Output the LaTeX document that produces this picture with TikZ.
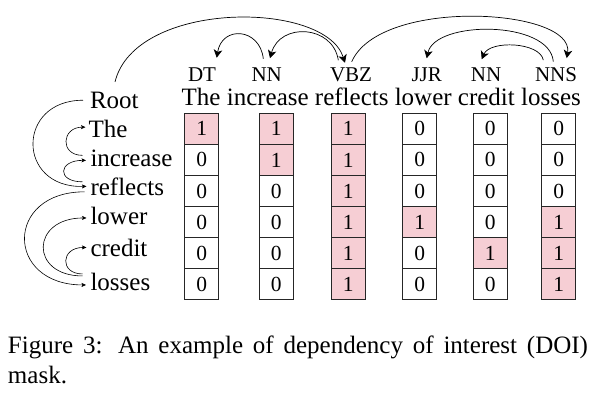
\documentclass[tikz,border=0pt]{standalone}
\usepackage{fontspec}
\setmainfont{Liberation Serif}
\usetikzlibrary{arrows.meta,calc}
\definecolor{maskpink}{RGB}{246,206,212}
\newcommand\wfont{\fontsize{25}{30}\selectfont}
\newcommand\tfont{\fontsize{21}{25}\selectfont}
\newcommand\dfont{\fontsize{21.5}{25}\selectfont}
\begin{document}
\begin{tikzpicture}[x=1pt,y=-1pt,
  word/.style={font=\wfont, inner sep=0pt, outer sep=0pt, anchor=base west},
  tag/.style={font=\tfont, inner sep=0pt, outer sep=0pt, anchor=base},
  cell/.style={draw=black!85, line width=1.1pt, minimum width=34pt, minimum height=31.1pt, inner sep=0pt, font=\dfont},
  val0/.style={fill=white},
  val1/.style={fill=maskpink},
  toparrow/.style={-{Stealth[length=8pt,width=8.5pt,inset=2.2pt]}, line width=0.7pt},
  leftarrow/.style={-{Stealth[length=4.5pt,width=4pt,inset=1pt]}, line width=0.6pt},
  captext/.style={font=\wfont, inner sep=0pt, outer sep=0pt, anchor=base west}]
\useasboundingbox (0,0) rectangle (604,398);

% left column words
\node[word] (lRoot) at (90,108.3) {Root};
\node[word] (lThe) at (88.5,137.7) {The};
\node[word] (lincrease) at (90.5,166) {increase};
\node[word] (lreflects) at (90.5,195) {reflects};
\node[word] (llower) at (90.5,224) {lower};
\node[word] (lcredit) at (90.5,256) {credit};
\node[word] (llosses) at (90.5,290) {losses};

% top sentence
\node[word] (w1) at (181.7,105.5) {The};
\node[word] (w2) at ([xshift=6.25pt]w1.base east) {increase};
\node[word] (w3) at ([xshift=6.25pt]w2.base east) {reflects};
\node[word] (w4) at ([xshift=6.25pt]w3.base east) {lower};
\node[word] (w5) at ([xshift=6.25pt]w4.base east) {credit};
\node[word] (w6) at ([xshift=6.25pt]w5.base east) {losses};

% POS tags
\node[tag] (t1) at (202,81.5) {DT};
\node[tag] (t2) at (266.7,81.5) {NN};
\node[tag] (t3) at (351,81.5) {VBZ};
\node[tag] (t4) at (426.7,81.5) {JJR};
\node[tag] (t5) at (486,81.5) {NN};
\node[tag] (t6) at (556,81.5) {NNS};

% mask cells
\foreach \c/\cx/\vals in {1/201.7/{1,0,0,0,0,0}, 2/276.3/{1,1,0,0,0,0}, 3/348.3/{1,1,1,1,1,1}, 4/419.7/{0,0,0,1,0,0}, 5/490.3/{0,0,0,0,1,0}, 6/558.7/{0,0,0,1,1,1}}{
  \foreach \v [count=\r] in \vals {
    \node[cell, val\v] (c\c-\r) at (\cx, {113.3+31.1*(\r-0.5)}) {\v};
  }
}

% top arcs
\draw[toparrow] ($(lRoot.north)+(0.7,-10)$) .. controls (135,0) and (325,0) .. ($(t3.north)+(-6,-5)$);
\draw[toparrow] ($(t2.north)+(-3.4,-9)$) .. controls (260,28) and (222,25) .. ($(t1.north)+(14.7,-10)$);
\draw[toparrow] ($(t3.north)+(-12.7,-7.5)$) .. controls (333,25) and (280,22) .. ($(t2.north)+(3.3,-9.5)$);
\draw[toparrow] ($(t3.north)+(0.7,-6)$) .. controls (380,-3) and (575,8) .. ($(t6.north)+(10.7,-9.5)$);
\draw[toparrow] ($(t6.north)+(-2.7,-6)$) .. controls (550,20) and (435,20) .. ($(t4.north)+(0,-9.5)$);
\draw[toparrow] ($(t6.north)+(-12.7,-7.5)$) .. controls (540,42) and (490,40) .. ($(t5.north)+(-4.3,-8.5)$);

% left arcs
\draw[leftarrow] ($(lRoot.west)+(-7,0)$) .. controls +(-67,0) and +(-70,2) .. ($(lreflects.west)+(-4,0)$);
\draw[leftarrow] ($(lincrease.west)+(-8,-2.5)$) .. controls +(-23,0) and +(-24,0) .. ($(lThe.west)+(-3,-2)$);
\draw[leftarrow] ($(lreflects.west)+(-8,-4.5)$) .. controls +(-26,0) and +(-28,0) .. ($(lincrease.west)+(-4.5,2.5)$);
\draw[leftarrow] ($(lreflects.west)+(-6,5.5)$) .. controls +(-80,0) and +(-81,0) .. ($(llosses.west)+(-4.5,3.5)$);
\draw[leftarrow] ($(llosses.west)+(-8,-5.5)$) .. controls +(-53,0) and +(-56,0) .. ($(llower.west)+(-4,2.5)$);
\draw[leftarrow] ($(llosses.west)+(-8,-7.5)$) .. controls +(-23,0) and +(-26,0) .. ($(lcredit.west)+(-4,0)$);

% caption
\node[captext] (cap1) at (8,353) {\makebox[580pt][s]{Figure 3: An example of dependency of interest (DOI)}};
\node[captext] (cap2) at (8,383) {mask.};
\end{tikzpicture}
\end{document}
